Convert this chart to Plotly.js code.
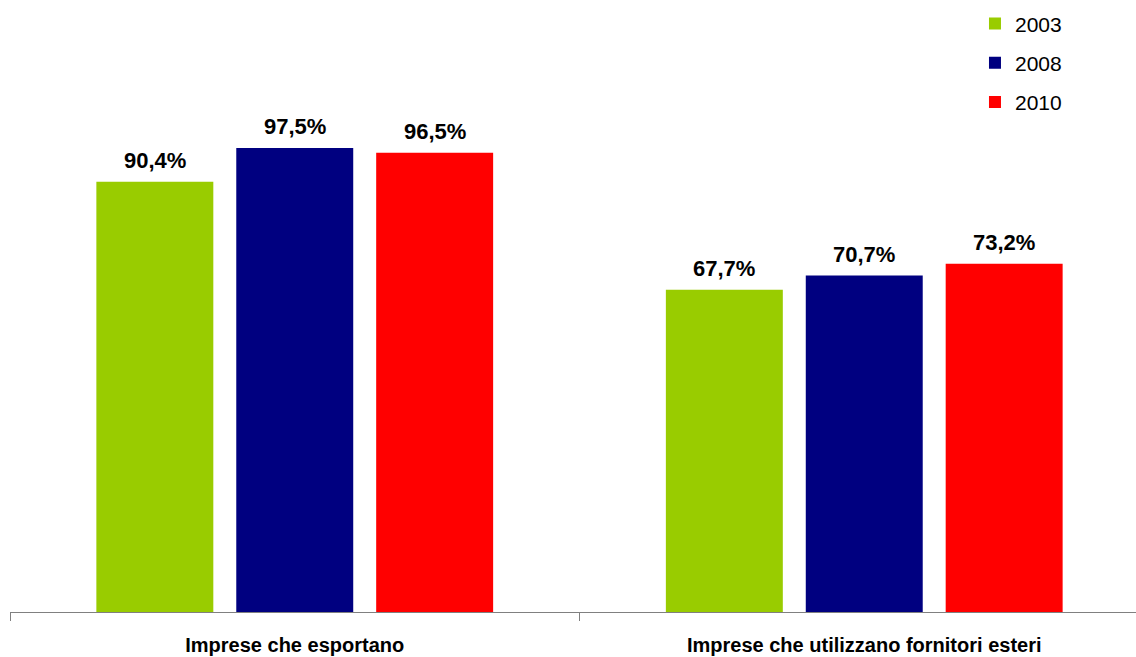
<!DOCTYPE html>
<html>
<head>
<meta charset="utf-8">
<script src="https://cdn.plot.ly/plotly-3.0.1.min.js"></script>
<style>html,body{margin:0;padding:0;background:#fff;}#chart{width:1136px;height:657px;}</style>
</head>
<body>
<div id="chart"></div>
<script>
const categories = ["Imprese che esportano", "Imprese che utilizzano fornitori esteri"];
const seriesNames = ["2003", "2008", "2010"];
const values2003 = [90.4, 67.7];
const values2008 = [97.5, 70.7];
const values2010 = [96.5, 73.2];
const colors = ["#99CC00", "#000080", "#FF0000"];

const allValues = [values2003, values2008, values2010];
const fmt = v => v.toFixed(1).replace(".", ",") + "%";

const traces = allValues.map((vals, i) => ({
  type: "bar",
  name: seriesNames[i],
  x: categories,
  y: vals,
  marker: {color: colors[i]},
  legendgroup: "g" + i,
  hoverinfo: "none"
}));

const bargap = 0.263;
const slot = (1 - bargap) / 3;
const annotations = [];
allValues.forEach((vals, i) => {
  vals.forEach((v, j) => {
    annotations.push({
      x: j + (i - 1) * slot,
      y: v,
      xref: "x", yref: "y",
      text: "<b>" + fmt(v) + "</b>",
      showarrow: false,
      yanchor: "bottom",
      yshift: 7,
      font: {family: "Liberation Sans, Arial, sans-serif", size: 22, color: "#000"}
    });
  });
});

const layout = {
  width: 1136, height: 657,
  margin: {l: 10, r: 0, t: 41, b: 45, autoexpand: false},
  paper_bgcolor: "#fff", plot_bgcolor: "#fff",
  barmode: "group",
  bargap: bargap,
  bargroupgap: 0.164,
  showlegend: true,
  legend: {
    x: 0.857, xanchor: "left", y: 0.995, yanchor: "top", yref: "container",
    font: {family: "Liberation Sans, Arial, sans-serif", size: 21, color: "#000"},
    traceorder: "grouped", tracegroupgap: 9,
    bgcolor: "rgba(0,0,0,0)"
  },
  xaxis: {
    type: "category",
    range: [-0.5, -0.5 + 1126 / 569.5],
    showline: true, linecolor: "#808080", linewidth: 1,
    ticks: "outside", tickson: "boundaries", ticklen: 8, tickcolor: "#808080",
    showgrid: false, zeroline: false,
    tickfont: {family: "Liberation Sans, Arial, sans-serif", size: 20, color: "#000"},
    tickprefix: "<b>", ticksuffix: "</b>",
    ticklabelstandoff: 15
  },
  yaxis: {range: [0, 120], visible: false, showgrid: false, zeroline: false},
  annotations: annotations
};

Plotly.newPlot("chart", traces, layout, {displayModeBar: false, staticPlot: true});
</script>
</body>
</html>
